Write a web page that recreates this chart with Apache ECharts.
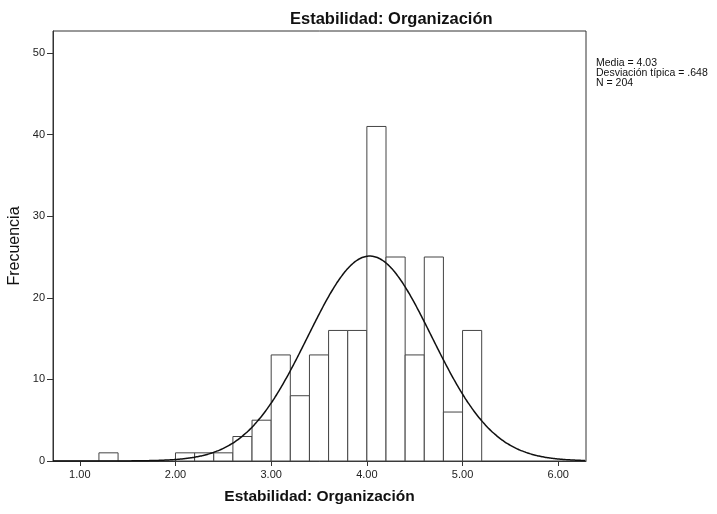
<!DOCTYPE html>
<html>
<head>
<meta charset="utf-8">
<script src="https://cdn.jsdelivr.net/npm/echarts@6/dist/echarts.min.js"></script>
<style>
  html, body { margin: 0; padding: 0; background: #fff; }
  #chart { width: 717px; height: 514px; }
</style>
</head>
<body>
<div id="chart"></div>
<script>
// límites inferiores de cada intervalo (ancho 0.2) y frecuencias
const binStarts = [1.2, 2.0, 2.2, 2.4, 2.6, 2.8, 3.0, 3.2, 3.4, 3.6, 3.8, 4.0, 4.2, 4.4, 4.6, 4.8, 5.0];
const counts    = [1,   1,   1,   1,   3,   5,   13,  8,   13,  16,  16,  41,  25,  13,  25,  6,   16];
const binWidth = 0.2;
const xTicks = [1, 2, 3, 4, 5, 6];
const yTicks = [0, 10, 20, 30, 40, 50];
// estadísticos mostrados en el gráfico
const media = 4.03;
const desv = 0.648;
const n = 204;

const xMin = 0.72, xMax = 6.29;

// curva normal con la media y desviación típica del gráfico
const curve = [];
for (let x = xMin; x <= xMax + 1e-9; x += 0.02) {
    const z = (x - media) / desv;
    curve.push([x, n * binWidth * Math.exp(-0.5 * z * z) / (desv * Math.sqrt(2 * Math.PI))]);
}

const bars = binStarts.map((s, i) => [s, s + binWidth, counts[i]]);

const chart = echarts.init(document.getElementById('chart'));
const font = 'Liberation Sans, Arial, sans-serif';

chart.setOption({
    backgroundColor: '#fff',
    animation: false,
    title: [
        {
            text: 'Estabilidad: Organización',
            left: 285, top: 6,
            textStyle: { fontFamily: font, fontSize: 16.5, fontWeight: 'bold', color: '#111' }
        },
        {
            text: 'Media = 4.03\nDesviación típica = .648\nN = 204',
            left: 591, top: 53,
            textStyle: { fontFamily: font, fontSize: 10.5, fontWeight: 'normal', color: '#111', lineHeight: 10 }
        }
    ],
    grid: {
        left: 53, right: 131, top: 31, bottom: 53,
        outerBoundsMode: 'none',
        show: true, borderColor: '#333', borderWidth: 1, backgroundColor: '#fff'
    },
    xAxis: {
        type: 'value', min: xMin, max: xMax,
        name: 'Estabilidad: Organización', nameLocation: 'middle', nameGap: 28,
        nameMoveOverlap: false,
        nameTextStyle: { fontFamily: font, fontSize: 15.5, fontWeight: 'bold', color: '#111' },
        axisLine: { show: true, lineStyle: { color: '#333' } },
        axisTick: { show: true, length: 5, customValues: xTicks, lineStyle: { color: '#333' } },
        axisLabel: {
            customValues: xTicks, margin: 8,
            fontFamily: font, fontSize: 11, color: '#222',
            formatter: v => v.toFixed(2)
        },
        splitLine: { show: false }
    },
    yAxis: {
        type: 'value', min: 0, max: 52.7,
        name: 'Frecuencia', nameLocation: 'middle', nameGap: 30,
        nameMoveOverlap: false,
        nameTextStyle: { fontFamily: font, fontSize: 16, color: '#111' },
        axisLine: { show: true, lineStyle: { color: '#333' } },
        axisTick: { show: true, length: 6, customValues: yTicks, lineStyle: { color: '#333' } },
        axisLabel: { customValues: yTicks, margin: 8, fontFamily: font, fontSize: 11, color: '#222' },
        splitLine: { show: false }
    },
    series: [
        {
            type: 'custom',
            data: bars,
            renderItem: (params, api) => {
                const p0 = api.coord([api.value(0), 0]);
                const p1 = api.coord([api.value(1), api.value(2)]);
                return {
                    type: 'rect',
                    shape: { x: p0[0], y: p1[1], width: p1[0] - p0[0], height: p0[1] - p1[1] },
                    style: { fill: '#fff', stroke: '#444', lineWidth: 1 }
                };
            },
            encode: { x: [0, 1], y: 2 },
            z: 2
        },
        {
            type: 'line',
            data: curve,
            showSymbol: false,
            smooth: true,
            lineStyle: { color: '#111', width: 1.5 },
            z: 3
        }
    ]
});
</script>
</body>
</html>
